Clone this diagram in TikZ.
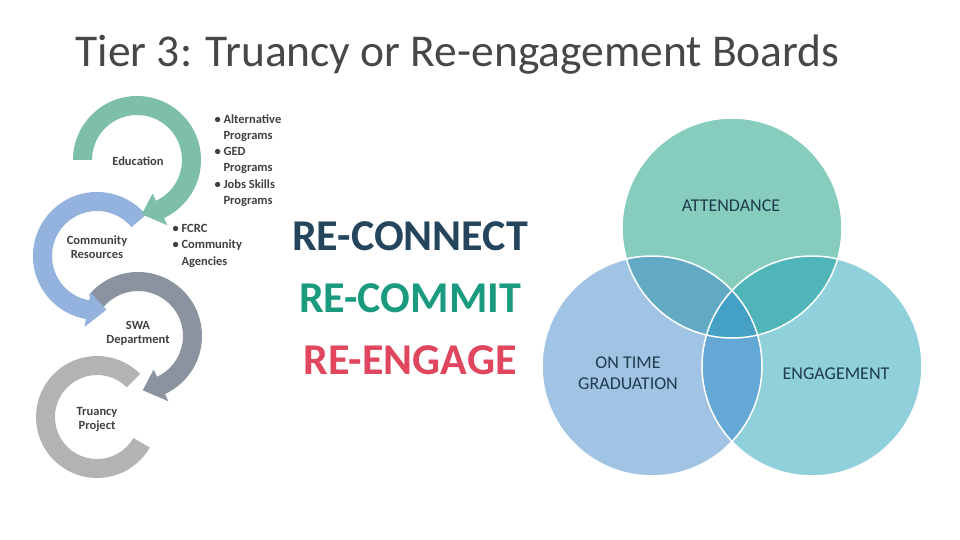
\documentclass[tikz,border=0pt]{standalone}
\usepackage{fontspec}
\setmainfont{Carlito}
\usetikzlibrary{calc}
\definecolor{cA}{HTML}{7DBFA8}
\definecolor{cB}{HTML}{93B2DE}
\definecolor{cC}{HTML}{8A939F}
\definecolor{cD}{HTML}{B3B3B3}
\definecolor{tblue}{HTML}{24455C}
\definecolor{tteal}{HTML}{1A9A7F}
\definecolor{tred}{HTML}{E0475F}
\definecolor{vT}{HTML}{86CDBE}
\definecolor{vL}{HTML}{A2C4E4}
\definecolor{vR}{HTML}{8FD0DB}
\definecolor{vTL}{HTML}{62AAC4}
\definecolor{vTR}{HTML}{4FB5B8}
\definecolor{vLR}{HTML}{64A8D6}
\definecolor{vC}{HTML}{45A0C5}
\definecolor{vtx}{HTML}{1F3B4D}
\newcommand{\cycarrow}[8]{% cx cy Ro Ri start end dir color
  \pgfmathsetmacro{\rm}{(#3+#4)/2}
  \pgfmathsetmacro{\ro}{#3+8}
  \pgfmathsetmacro{\ri}{#4-8}
  \pgfmathsetmacro{\ta}{#6+#7*20}
  \fill[#8] ($(#1,#2)+(#5:#3)$) arc[start angle=#5,end angle=#6,radius=#3]
    -- ($(#1,#2)+(#6:\ro)$) -- ($(#1,#2)+(\ta:\rm)$) -- ($(#1,#2)+(#6:\ri)$)
    -- ($(#1,#2)+(#6:#4)$) arc[start angle=#6,end angle=#5,radius=#4] -- cycle;}
\begin{document}
\begin{tikzpicture}[x=1pt,y=-1pt,
  lbl/.style={font=\fontsize{12.5}{14}\selectfont\bfseries,text=black!75,align=center},
  bul/.style={font=\fontsize{12.5}{16.2}\selectfont\bfseries,text=black!75,align=left,anchor=north west},
  big/.style={font=\fontsize{44}{44}\selectfont\bfseries},
  vtxt/.style={font=\fontsize{18}{21}\selectfont,text=vtx,align=center}]
\useasboundingbox (0,0) rectangle (960,540);
\node[anchor=west,font=\fontsize{45.5}{46}\selectfont,text=black!72] (title) at (72,55) {Tier 3: Truancy or Re-engagement Boards};
% cycle arrows
\fill[cD] ($(97,417)+(315:61)$) arc[start angle=315,end angle=30,radius=61]
  -- ($(97,417)+(30:42)$) arc[start angle=30,end angle=315,radius=42] -- cycle;
\cycarrow{138}{336}{64}{45}{220}{425}{1}{cC}
\cycarrow{97}{256}{64}{45}{320}{100}{-1}{cB}
\cycarrow{137}{160}{64}{45}{180}{425}{1}{cA}
\node[lbl] (edu) at (138,161) {Education};
\node[lbl] (com) at (97,247) {Community\\Resources};
\node[lbl] (swa) at (138,333) {SWA\\Department};
\node[lbl] (tru) at (97,419) {Truancy\\Project};
\node[bul] (b1) at (211,111) {\textbullet\ Alternative\\\hspace{9pt}Programs\\\textbullet\ GED\\\hspace{9pt}Programs\\\textbullet\ Jobs Skills\\\hspace{9pt}Programs};
\node[bul] (b2) at (169,221) {\textbullet\ FCRC\\\textbullet\ Community\\\hspace{9pt}Agencies};
\node[big,text=tblue] (rc1) at (410,236) {RE-CONNECT};
\node[big,text=tteal] (rc2) at (410,298) {RE-COMMIT};
\node[big,text=tred] (rc3) at (410,360) {RE-ENGAGE};
% venn
\def\cT{(732,228) circle[radius=110]}
\def\cL{(652,366) circle[radius=110]}
\def\cR{(812,366) circle[radius=110]}
\fill[vT] \cT; \fill[vL] \cL; \fill[vR] \cR;
\begin{scope}\clip \cT; \fill[vTL] \cL; \fill[vTR] \cR; \end{scope}
\begin{scope}\clip \cL; \fill[vLR] \cR; \end{scope}
\begin{scope}\clip \cT; \clip \cL; \fill[vC] \cR; \end{scope}
\draw[white,line width=1.5] \cT \cL \cR;
\node[vtxt] (att) at (731,206) {ATTENDANCE};
\node[vtxt] (otg) at (628,373) {ON TIME\\GRADUATION};
\node[vtxt] (eng) at (836,374) {ENGAGEMENT};
\end{tikzpicture}
\end{document}
